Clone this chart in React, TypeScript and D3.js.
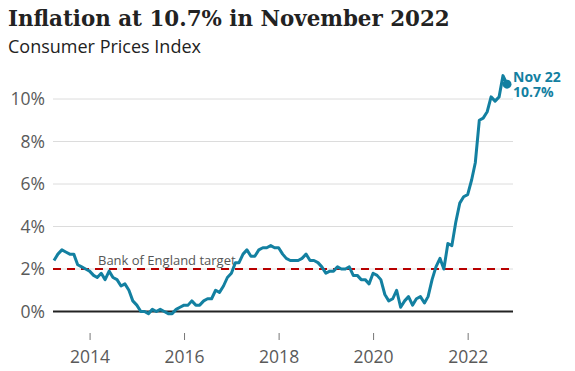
import React, { useEffect, useRef } from 'react';
import * as d3 from 'd3';

// monthly CPI annual rate (%), April 2013 to November 2022
const startMonth = new Date(2013, 3, 1);
const cpi2013 = [2.4, 2.7, 2.9, 2.8, 2.7, 2.7, 2.2, 2.1, 2.0];
const cpi2014 = [1.9, 1.7, 1.6, 1.8, 1.5, 1.9, 1.6, 1.5, 1.2, 1.3, 1.0, 0.5];
const cpi2015 = [0.3, 0.0, 0.0, -0.1, 0.1, 0.0, 0.1, 0.0, -0.1, -0.1, 0.1, 0.2];
const cpi2016 = [0.3, 0.3, 0.5, 0.3, 0.3, 0.5, 0.6, 0.6, 1.0, 0.9, 1.2, 1.6];
const cpi2017 = [1.8, 2.3, 2.3, 2.7, 2.9, 2.6, 2.6, 2.9, 3.0, 3.0, 3.1, 3.0];
const cpi2018 = [3.0, 2.7, 2.5, 2.4, 2.4, 2.4, 2.5, 2.7, 2.4, 2.4, 2.3, 2.1];
const cpi2019 = [1.8, 1.9, 1.9, 2.1, 2.0, 2.0, 2.1, 1.7, 1.7, 1.5, 1.5, 1.3];
const cpi2020 = [1.8, 1.7, 1.5, 0.8, 0.5, 0.6, 1.0, 0.2, 0.5, 0.7, 0.3, 0.6];
const cpi2021 = [0.7, 0.4, 0.7, 1.5, 2.1, 2.5, 2.0, 3.2, 3.1, 4.2, 5.1, 5.4];
const cpi2022 = [5.5, 6.2, 7.0, 9.0, 9.1, 9.4, 10.1, 9.9, 10.1, 11.1, 10.7];

const yTicks = [0, 2, 4, 6, 8, 10];
const target = 2;
const targetLabel = 'Bank of England target';
const endLabel = ['Nov 22', '10.7%'];

const teal = '#1380a1';
const sans = "'Open Sans', 'Noto Sans', sans-serif";

const App: React.FC = () => {
  const ref = useRef<SVGSVGElement>(null);

  useEffect(() => {
    if (!ref.current) return;
    const width = 575, height = 371;
    const left = 53, right = 513;

    const values = [
      ...cpi2013, ...cpi2014, ...cpi2015, ...cpi2016, ...cpi2017,
      ...cpi2018, ...cpi2019, ...cpi2020, ...cpi2021, ...cpi2022,
    ];
    const data = values.map((v, i) => ({
      date: d3.timeMonth.offset(startMonth, i),
      value: v,
    }));
    const last = data[data.length - 1];

    const svg = d3.select(ref.current);
    svg.selectAll('*').remove();
    svg.attr('width', width).attr('height', height);

    svg.append('rect').attr('width', width).attr('height', height).attr('fill', '#fff');

    const x = d3.scaleTime()
      .domain([data[0].date, last.date])
      .range([54, 507]);

    const y = d3.scaleLinear()
      .domain([0, 10])
      .range([311.5, 99]);

    // title
    svg.append('text')
      .attr('x', 8).attr('y', 26)
      .attr('font-family', "'DejaVu Serif', serif")
      .attr('font-weight', 'bold')
      .attr('font-size', 21.4)
      .attr('fill', '#222')
      .text('Inflation at 10.7% in November 2022');

    svg.append('text')
      .attr('x', 8).attr('y', 53)
      .attr('font-family', sans)
      .attr('font-size', 18)
      .attr('fill', '#222')
      .text('Consumer Prices Index');

    // gridlines
    svg.append('g')
      .selectAll('line')
      .data(yTicks.filter(d => d !== 0))
      .enter()
      .append('line')
      .attr('x1', left).attr('x2', right)
      .attr('y1', d => y(d)).attr('y2', d => y(d))
      .attr('stroke', '#dcdcdc')
      .attr('stroke-width', 1);

    // y labels
    const yAxis = svg.append('g')
      .attr('transform', `translate(45,0)`)
      .call(d3.axisLeft(y).tickValues(yTicks).tickSize(0).tickPadding(0).tickFormat(d => `${d}%`));
    yAxis.select('.domain').remove();
    yAxis.selectAll('text')
      .attr('font-family', sans)
      .attr('font-size', 17.5)
      .attr('fill', '#5a5a5a');

    // target line
    svg.append('line')
      .attr('x1', left).attr('x2', right)
      .attr('y1', y(target)).attr('y2', y(target))
      .attr('stroke', '#b80000')
      .attr('stroke-width', 2)
      .attr('stroke-dasharray', '8,6');

    svg.append('text')
      .attr('x', 98).attr('y', y(target) - 4)
      .attr('font-family', sans)
      .attr('font-size', 13)
      .attr('fill', '#555')
      .text(targetLabel);

    // zero line
    svg.append('line')
      .attr('x1', left).attr('x2', right)
      .attr('y1', y(0)).attr('y2', y(0))
      .attr('stroke', '#222')
      .attr('stroke-width', 1.8);

    // x axis
    const xAxis = svg.append('g')
      .attr('transform', `translate(0,333)`)
      .call(d3.axisBottom(x).ticks(d3.timeYear.every(2)).tickSize(7).tickPadding(11)
        .tickFormat(d => d3.timeFormat('%Y')(d as Date)));
    xAxis.select('.domain').remove();
    xAxis.selectAll('line').attr('stroke', '#777');
    xAxis.selectAll('text')
      .attr('font-family', sans)
      .attr('font-size', 17.5)
      .attr('fill', '#5a5a5a');

    // series
    const line = d3.line<{ date: Date, value: number }>()
      .x(d => x(d.date))
      .y(d => y(d.value));

    svg.append('path')
      .datum(data)
      .attr('d', line)
      .attr('fill', 'none')
      .attr('stroke', teal)
      .attr('stroke-width', 3)
      .attr('stroke-linejoin', 'round');

    svg.append('circle')
      .attr('cx', x(last.date)).attr('cy', y(last.value))
      .attr('r', 4.5)
      .attr('fill', teal);

    const lbl = svg.append('text')
      .attr('font-family', sans)
      .attr('font-weight', 'bold')
      .attr('font-size', 14)
      .attr('fill', teal);
    lbl.append('tspan').attr('x', x(last.date) + 6).attr('y', y(last.value) - 2).text(endLabel[0]);
    lbl.append('tspan').attr('x', x(last.date) + 6).attr('y', y(last.value) + 13).text(endLabel[1]);
  }, []);

  return <svg ref={ref} style={{ position: 'absolute', left: 0, top: 0 }} />;
};

export default App;
